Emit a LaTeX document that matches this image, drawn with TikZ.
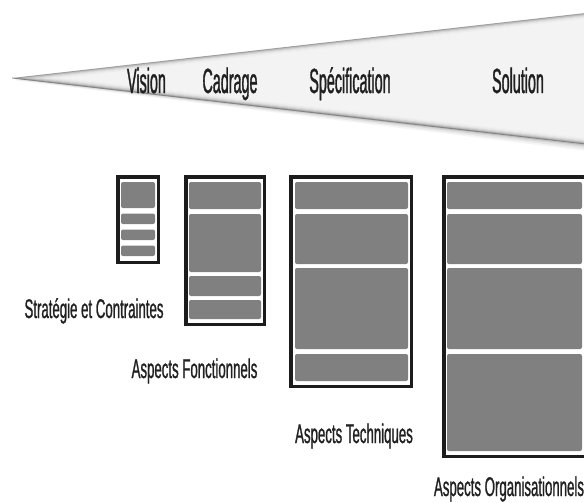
\documentclass[tikz,border=0pt]{standalone}
\usepackage{fontspec}
\newfontfamily\phasefont[FakeStretch=0.41, FakeBold=0.9]{Liberation Sans}
\newfontfamily\aspectfont[FakeStretch=0.49, FakeBold=0.9]{Liberation Sans}
\definecolor{ink}{HTML}{202020}
\definecolor{frameink}{HTML}{1C1C1C}
\definecolor{panel}{HTML}{808080}
\definecolor{wedgefill}{HTML}{F3F3F3}
\begin{document}
\begin{tikzpicture}[x=1pt,y=-1pt,
  phase/.style={font=\phasefont\fontsize{35}{35}\selectfont, text=ink, anchor=base, inner sep=0pt},
  aspect/.style={font=\aspectfont\fontsize{27}{27}\selectfont, text=ink, anchor=base, inner sep=0pt},
  frame/.style={draw=frameink, line width=3.5pt, fill=white, rectangle, inner sep=0pt},
  slot/.style={fill=panel, rounded corners=2pt}]
\useasboundingbox (0,0) rectangle (584,503);
\clip (0,0) rectangle (584,503);

% soft drop shadow under the widening wedge
\foreach \d/\o in {7/0.04, 5/0.06, 3/0.08, 1.5/0.11}
  \fill[black, opacity=\o] (14,78+0.3*\d) -- (590,12.5+\d) -- (590,144.5+\d) -- cycle;

% bevelled wedge: nested fills from the darker rim to the light face
\foreach \d/\c in {0/black!38, 1/black!25, 2/black!17, 3/black!11, 4/black!8, 5/black!6, 6/wedgefill}
  \fill[\c] (12+8.76*\d,78) -- (590,12.5+\d) -- (590,144.5-\d) -- cycle;
% darker lower rim
\draw[black!50, line width=0.7pt] (12,78) -- (590,144.5);

% phase labels
\node[phase] (vision) at (146.5,93) {Vision};
\node[phase] (cadrage) at (230,93) {Cadrage};
\node[phase] (spec) at (350,93) {Spécification};
\node[phase] (solution) at (518,93) {Solution};

% framed documents growing from phase to phase
\node[frame, minimum width=40.5pt, minimum height=85.5pt] (doc1) at (138,219.5) {};
\node[frame, minimum width=78.5pt, minimum height=147.5pt] (doc2) at (225,250.5) {};
\node[frame, minimum width=120.5pt, minimum height=209.5pt] (doc3) at (351,281.5) {};
\node[frame, minimum width=141.5pt, minimum height=279.5pt] (doc4) at (514.5,316.5) {};

% sections inside each document
\fill[slot] (121,182) rectangle (155,208);
\fill[slot] (121,213.5) rectangle (155,224);
\fill[slot] (121,229.5) rectangle (155,240);
\fill[slot] (121,245.5) rectangle (155,256);

\fill[slot] (189,182) rectangle (261,209);
\fill[slot] (189,214) rectangle (261,272);
\fill[slot] (189,276) rectangle (261,296);
\fill[slot] (189,300) rectangle (261,319);

\fill[slot] (295,182) rectangle (408,209);
\fill[slot] (295,214) rectangle (408,264);
\fill[slot] (295,268) rectangle (408,349);
\fill[slot] (295,354) rectangle (408,381);

\fill[slot] (447,182) rectangle (582,209);
\fill[slot] (447,214) rectangle (582,264);
\fill[slot] (447,268) rectangle (582,349);
\fill[slot] (447,354) rectangle (582,451);

% aspect labels
\node[aspect] (strat) at (94,318) {Stratégie et Contraintes};
\node[aspect] (fonct) at (194.5,378) {Aspects Fonctionnels};
\node[aspect] (tech) at (354,443) {Aspects Techniques};
\node[aspect] (orga) at (509,496) {Aspects Organisationnels};
\end{tikzpicture}
\end{document}
